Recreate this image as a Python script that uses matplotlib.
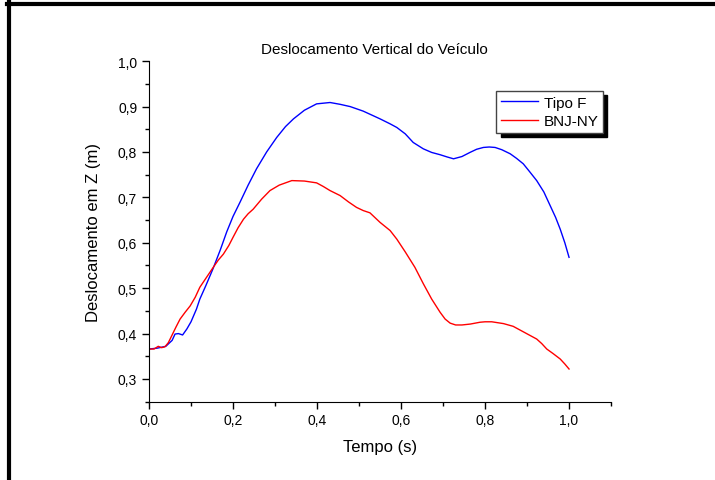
import numpy as np
import matplotlib
matplotlib.use('Agg')
import matplotlib.pyplot as plt
from matplotlib.ticker import MultipleLocator, FuncFormatter
from matplotlib.lines import Line2D

plt.rcParams['font.family'] = ['Liberation Sans', 'DejaVu Sans']

# Tipo F
t_f = [0.0, 0.02, 0.04, 0.055, 0.062, 0.07, 0.08, 0.09, 0.10, 0.113, 0.121, 0.135, 0.152,
       0.17, 0.185, 0.2, 0.217, 0.236, 0.256, 0.28, 0.304, 0.325, 0.344, 0.37, 0.399,
       0.431, 0.455, 0.479, 0.51, 0.55, 0.574, 0.59, 0.61, 0.629, 0.653, 0.673, 0.693,
       0.71, 0.725, 0.745, 0.764, 0.78, 0.796, 0.81, 0.824, 0.84, 0.86, 0.875, 0.891,
       0.905, 0.923, 0.94, 0.955, 0.968, 0.979, 0.99, 1.0]
z_f = [0.366, 0.368, 0.372, 0.385, 0.399, 0.400, 0.397, 0.41, 0.426, 0.454, 0.476, 0.505, 0.542,
       0.585, 0.624, 0.658, 0.69, 0.727, 0.763, 0.80, 0.832, 0.856, 0.873, 0.892, 0.906,
       0.909, 0.905, 0.900, 0.89, 0.873, 0.862, 0.854, 0.84, 0.821, 0.807, 0.799, 0.794,
       0.789, 0.785, 0.79, 0.799, 0.806, 0.81, 0.811, 0.81, 0.805, 0.796, 0.786, 0.774,
       0.758, 0.737, 0.712, 0.682, 0.656, 0.63, 0.6, 0.568]

# BNJ-NY
t_b = [0.0, 0.012, 0.022, 0.03, 0.038, 0.046, 0.054, 0.064, 0.074, 0.086, 0.098, 0.11, 0.121,
       0.137, 0.153, 0.165, 0.177, 0.19, 0.2, 0.212, 0.225, 0.236, 0.248, 0.268, 0.288,
       0.31, 0.34, 0.37, 0.399, 0.415, 0.431, 0.455, 0.475, 0.494, 0.51, 0.526, 0.55,
       0.574, 0.59, 0.61, 0.633, 0.653, 0.673, 0.693, 0.705, 0.717, 0.73, 0.745, 0.765,
       0.788, 0.8, 0.816, 0.83, 0.844, 0.867, 0.891, 0.905, 0.923, 0.935, 0.947, 0.962,
       0.979, 0.99, 1.0]
z_b = [0.366, 0.366, 0.372, 0.369, 0.371, 0.38, 0.395, 0.414, 0.432, 0.447, 0.461, 0.48, 0.502,
       0.524, 0.546, 0.562, 0.575, 0.594, 0.612, 0.633, 0.652, 0.664, 0.674, 0.696, 0.715,
       0.727, 0.737, 0.736, 0.732, 0.724, 0.715, 0.704, 0.69, 0.678, 0.671, 0.666, 0.645,
       0.627, 0.608, 0.58, 0.546, 0.51, 0.476, 0.447, 0.432, 0.423, 0.419, 0.419, 0.421,
       0.425, 0.426, 0.426, 0.424, 0.422, 0.416, 0.404, 0.397, 0.388, 0.378, 0.366, 0.356,
       0.344, 0.333, 0.322]

fig = plt.figure(figsize=(7.15, 4.81), dpi=100)
ax = fig.add_axes([0.2084, 0.1628, 0.6462, 0.7079])

ax.plot(t_f, z_f, color='#0000ff', lw=1.0, label='Tipo F')
ax.plot(t_b, z_b, color='#ff0000', lw=1.0, label='BNJ-NY')

ax.set_xlim(0, 1.1)
ax.set_ylim(0.25, 1.0)
ax.spines['top'].set_visible(False)
ax.spines['right'].set_visible(False)
ax.xaxis.set_major_locator(MultipleLocator(0.2))
ax.xaxis.set_minor_locator(MultipleLocator(0.1))
ax.yaxis.set_major_locator(MultipleLocator(0.1))
ax.yaxis.set_minor_locator(MultipleLocator(0.05))
ax.xaxis.set_major_formatter(FuncFormatter(lambda v, p: ('%.1f' % v).replace('.', ',') if v <= 1.0001 else ''))
ax.yaxis.set_major_formatter(FuncFormatter(lambda v, p: ('%.1f' % v).replace('.', ',') if 0.2999 <= v <= 1.0001 else ''))
ax.tick_params(which='major', direction='out', length=5, width=1, labelsize=10)
ax.tick_params(which='minor', direction='out', length=3, width=1)

ax.set_xlabel('Tempo (s)', fontsize=12, labelpad=8)
ax.set_ylabel('Deslocamento em Z (m)', fontsize=12, labelpad=12)
ax.set_title('Deslocamento Vertical do Veículo', fontsize=11, pad=6, x=0.487)

leg = ax.legend(loc='upper right', bbox_to_anchor=(0.983, 0.912), fontsize=11,
                fancybox=False, edgecolor='#444444', framealpha=1,
                handlelength=2.4, handletextpad=0.4, borderpad=0.3, labelspacing=0.3,
                borderaxespad=0,
                shadow={'ox': 3, 'oy': -3, 'facecolor': 'black', 'edgecolor': 'black', 'alpha': 1})
leg.get_frame().set_linewidth(1.0)

# frame lines around the picture
fig.add_artist(Line2D([9 / 715, 9 / 715], [0, 1 - 3 / 481], color='black', lw=3,
                      transform=fig.transFigure))
fig.add_artist(Line2D([7 / 715, 1], [1 - 5 / 481, 1 - 5 / 481], color='black', lw=3,
                      transform=fig.transFigure))

fig.savefig('out.png', dpi=100)
